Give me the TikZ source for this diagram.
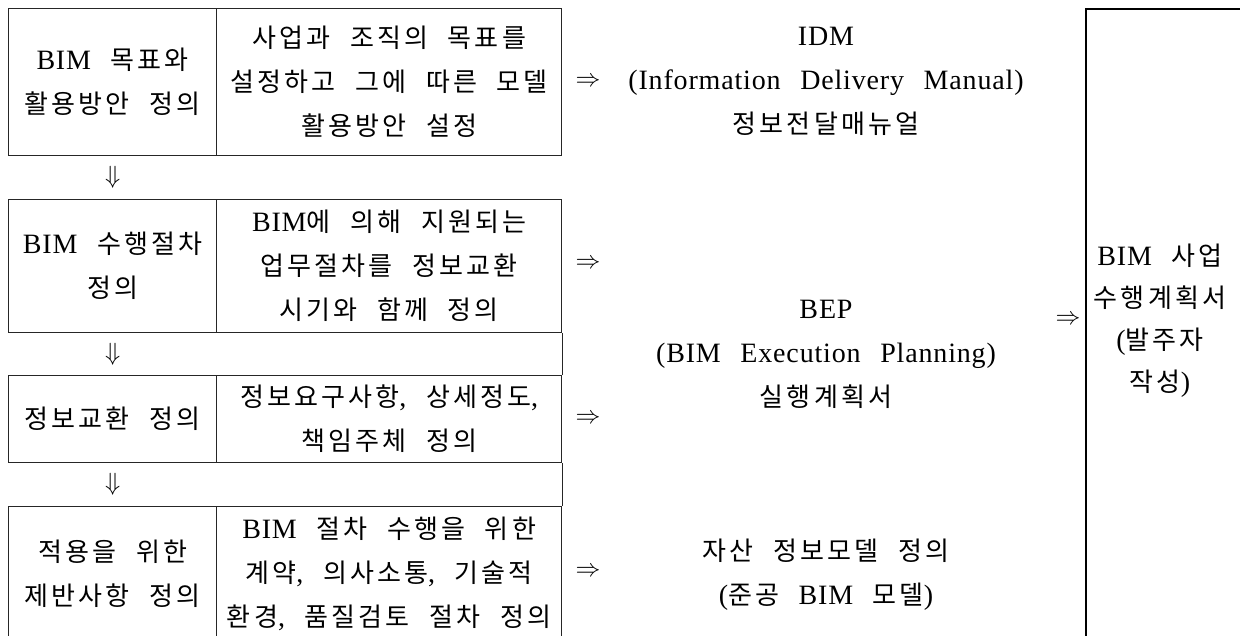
\documentclass[tikz,border=0pt]{standalone}
\usepackage{fontspec}
\setmainfont{Liberation Serif}[LetterSpace=3, WordSpace=2.5]
\newfontfamily\krfont{Noto Sans CJK KR}[Scale=0.93, LetterSpace=12, WordSpace=2.2]
\newcommand\hk[1]{{\krfont #1}}
\usetikzlibrary{calc}
\tikzset{
  cell/.style={draw=black!85, line width=1.3pt, anchor=north west, inner sep=0pt, align=center,
    font=\fontsize{28}{44}\selectfont},
  txt/.style={inner sep=0pt, align=center, font=\fontsize{28}{44}\selectfont},
  arr/.style={inner sep=0pt, font=\fontsize{24}{26}\selectfont},
  darr/.style={inner sep=0pt, font=\fontsize{30}{32}\selectfont},
  bigbox/.style={draw=black, line width=1.5pt, anchor=north west, inner sep=0pt, align=center,
    font=\fontsize{28}{42}\selectfont},
  rline/.style={draw=black!85, line width=1.3pt}
}
\begin{document}
\begin{tikzpicture}[x=1pt,y=-1pt]
\clip (0,0) rectangle (1240,635);
\fill[white] (0,0) rectangle (1240,635);
% row 1
\node[cell, minimum width=208pt, minimum height=147pt] (L1) at (8,8) {BIM \hk{목표와}\\\hk{활용방안 정의}};
\node[cell, minimum width=345pt, minimum height=147pt] (R1) at (216,8) {\hk{사업과 조직의 목표를}\\\hk{설정하고 그에 따른 모델}\\\hk{활용방안 설정}};
% row 2
\node[cell, minimum width=208pt, minimum height=133pt] (L2) at (8,199) {BIM \hk{수행절차}\\\hk{정의}};
\node[cell, minimum width=345pt, minimum height=133pt] (R2) at (216,199) {BIM\hk{에 의해 지원되는}\\\hk{업무절차를 정보교환}\\\hk{시기와 함께 정의}};
% row 3
\node[cell, minimum width=208pt, minimum height=87pt] (L3) at (8,375) {\hk{정보교환 정의}};
\node[cell, minimum width=345pt, minimum height=87pt] (R3) at (216,375) {\hk{정보요구사항}, \hk{상세정도},\\\hk{책임주체 정의}};
% row 4
\node[cell, minimum width=208pt, minimum height=134pt] (L4) at (8,506) {\hk{적용을 위한}\\\hk{제반사항 정의}};
\node[cell, minimum width=345pt, minimum height=134pt] (R4) at (216,506) {BIM \hk{절차 수행을 위한}\\\hk{계약}, \hk{의사소통}, \hk{기술적}\\\hk{환경}, \hk{품질검토 절차 정의}};
% right border through the bands
\draw[rline] (R2.south east) -- (R3.north east);
\draw[rline] (R3.south east) -- (R4.north east);
% down arrows
\node[darr] (d1) at ($(L1.south)!0.5!(L2.north)$) {$\Downarrow$};
\node[darr] (d2) at ($(L2.south)!0.5!(L3.north)$) {$\Downarrow$};
\node[darr] (d3) at ($(L3.south)!0.5!(L4.north)$) {$\Downarrow$};
% right arrows
\node[arr] (a1) at (588,82) {$\Rightarrow$};
\node[arr] (a2) at (588,264) {$\Rightarrow$};
\node[arr] (a3) at (588,419) {$\Rightarrow$};
\node[arr] (a4) at (588,572) {$\Rightarrow$};
% middle texts
\node[txt] (idm) at (826,81) {IDM\\(Information Delivery Manual)\\\hk{정보전달매뉴얼}};
\node[txt] (bep) at (826,354) {BEP\\(BIM Execution Planning)\\\hk{실행계획서}};
\node[txt] (asset) at (826,575) {\hk{자산 정보모델 정의}\\(\hk{준공} BIM \hk{모델})};
% final box
\node[arr] (a5) at (1068,320) {$\Rightarrow$};
\node[bigbox, minimum width=160pt, minimum height=630pt] (plan) at (1085,8) {};
\node[txt, font=\fontsize{28}{42}\selectfont] (plantxt) at (1160,321) {BIM \hk{사업}\\\hk{수행계획서}\\(\hk{발주자}\\\hk{작성})};
\end{tikzpicture}
\end{document}
